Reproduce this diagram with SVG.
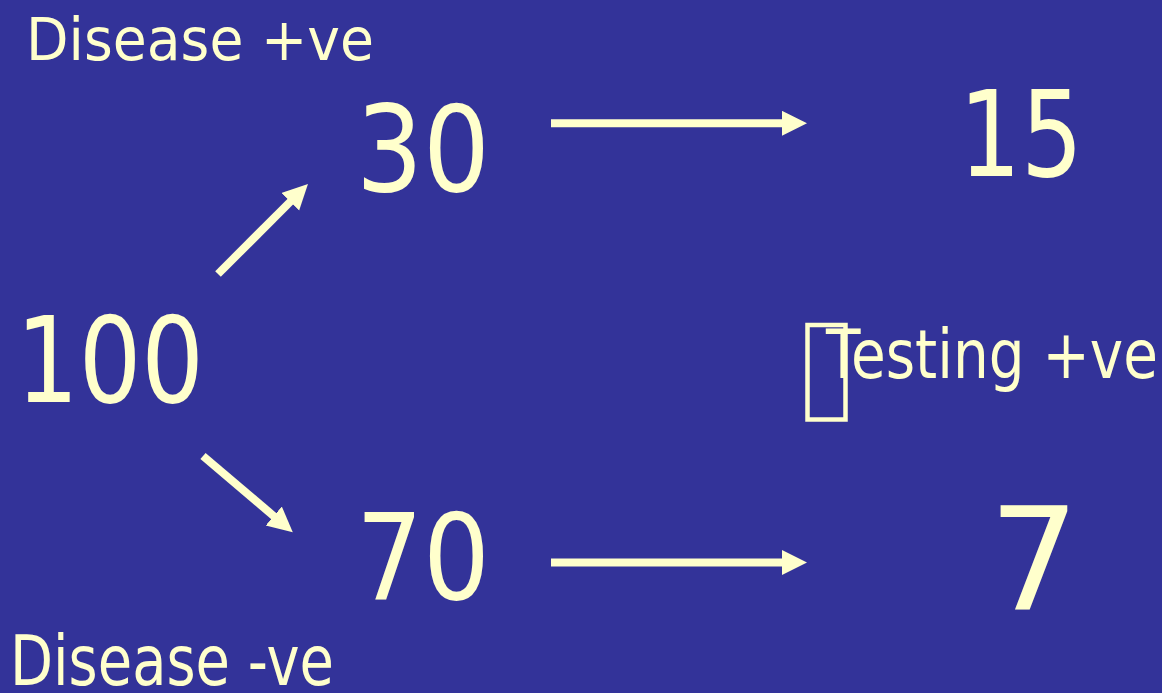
<svg xmlns="http://www.w3.org/2000/svg" width="1162" height="693" viewBox="0 0 1162 693">
  <style>
    .bg { fill: #333399; }
    .t { fill: #FFFFCC; font-family: Tahoma, "DejaVu Sans", sans-serif; }
    .arrow { stroke: #FFFFCC; stroke-width: 8; fill: none; stroke-linecap: butt; marker-end: url(#head); }
    .box { fill: none; stroke: #FFFFCC; stroke-width: 4.5; }
  </style>
  <defs>
    <marker id="head" markerUnits="userSpaceOnUse" markerWidth="26" markerHeight="26" refX="1" refY="12.5" orient="auto">
      <path d="M0,0 L25,12.5 L0,25 Z" fill="#FFFFCC"/>
    </marker>
  </defs>

  <rect class="bg" x="0" y="0" width="1162" height="693"/>

  <g id="label-disease-pos">
    <text class="t" x="26" y="60" font-size="59" textLength="348" lengthAdjust="spacingAndGlyphs">Disease +ve</text>
  </g>
  <g id="label-disease-neg">
    <text class="t" x="10" y="685" font-size="69" textLength="324" lengthAdjust="spacingAndGlyphs">Disease -ve</text>
  </g>

  <g id="node-100">
    <text class="t" x="16" y="402" font-size="119" textLength="188" lengthAdjust="spacingAndGlyphs">100</text>
  </g>
  <g id="node-30">
    <text class="t" x="356" y="191" font-size="119" textLength="134" lengthAdjust="spacingAndGlyphs">30</text>
  </g>
  <g id="node-70">
    <text class="t" x="356" y="599" font-size="119" textLength="134" lengthAdjust="spacingAndGlyphs">70</text>
  </g>
  <g id="node-15">
    <text class="t" x="959" y="176" font-size="119" textLength="124" lengthAdjust="spacingAndGlyphs">15</text>
  </g>
  <g id="node-7">
    <text class="t" x="989" y="609" font-size="142">7</text>
  </g>

  <g id="label-testing-pos">
    <rect class="box" x="807.5" y="325" width="38" height="94.5"/>
    <text class="t" x="826" y="378" font-size="68" textLength="332" lengthAdjust="spacingAndGlyphs">Testing +ve</text>
  </g>

  <g id="connectors">
    <line class="arrow" x1="218" y1="274" x2="291" y2="201"/>
    <line class="arrow" x1="203" y1="456" x2="274.5" y2="516.7"/>
    <line class="arrow" x1="551" y1="123.3" x2="783" y2="123.3"/>
    <line class="arrow" x1="551" y1="562.5" x2="783" y2="562.5"/>
  </g>
</svg>
